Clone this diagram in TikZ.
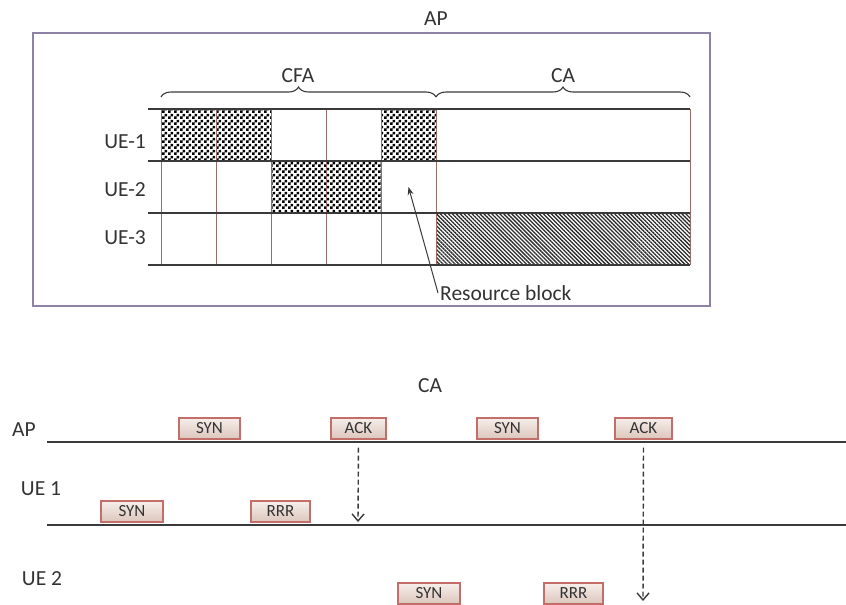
\documentclass[tikz,border=0pt]{standalone}
\usepackage{fontspec}
\setmainfont{Carlito}
\usetikzlibrary{patterns,patterns.meta,decorations.pathreplacing,arrows.meta,positioning}

\definecolor{framecol}{HTML}{8E82A6}
\definecolor{gridcol}{HTML}{9A6E66}
\definecolor{linecol}{HTML}{3A3A3A}
\definecolor{txtcol}{HTML}{333333}
\definecolor{boxedge}{HTML}{C46E6A}
\definecolor{boxtop}{HTML}{F6EEEA}
\definecolor{boxbot}{HTML}{DCC6BC}
\definecolor{hatchcol}{HTML}{2A2A2A}

% fine black and white squares
\pgfdeclarepatternformonly{checker}{\pgfpointorigin}{\pgfpoint{6pt}{6pt}}{\pgfpoint{6pt}{6pt}}{
  \pgfpathrectangle{\pgfpointorigin}{\pgfpoint{3pt}{3pt}}
  \pgfpathrectangle{\pgfpoint{3pt}{3pt}}{\pgfpoint{3pt}{3pt}}
  \pgfusepath{fill}
}

\begin{document}
\begin{tikzpicture}[x=1pt,y=-1pt]
	\tikzstyle{lbl} = [font=\fontsize{21.5}{23}\selectfont, text=txtcol]
	\tikzstyle{cell} = [minimum width=55pt, minimum height=52pt, inner sep=0pt, outer sep=0pt]
	\tikzstyle{msg} = [draw=boxedge, line width=1.4pt, top color=boxtop, bottom color=boxbot, minimum width=61pt, minimum height=21pt, inner sep=0pt, text=txtcol, font=\fontsize{17}{18}\selectfont]
	\tikzstyle{wait} = [linecol, line width=1.4pt, dash pattern=on 5pt off 3pt, -{Straight Barb[length=7pt,width=12pt,line width=1.4pt]}]
	
	\useasboundingbox (0,0) rectangle (846,605);
	
	% Upper part: resource grid
	\draw[framecol, line width=1.2pt] (33,33) rectangle (710,306);
	\node[lbl] (ap) at (436,19) {AP};
	
	\foreach \r in {1,2,3} {
		\foreach \k in {1,...,5}
			\node[cell] (c\r\k) at ({133.5+55*\k},{83+52*\r}) {};
		\node[cell, minimum width=254pt] (ca\r) at (563,{83+52*\r}) {};
	}
	
	\foreach \n in {c11,c12,c15,c23,c24}
		\fill[pattern=checker] (\n.north west) rectangle (\n.south east);
	\fill[pattern={Lines[angle=-45,distance=2.8pt,line width=1.3pt]}, pattern color=hatchcol] (ca3.north west) rectangle (ca3.south east);
	
	\foreach \x in {161,216,271,326,381,436,690}
		\draw[gridcol, line width=0.6pt] (\x,109) -- (\x,265);
	\foreach \y in {109,161,213,265}
		\draw[linecol, line width=1.6pt] (148,\y) -- (690,\y);
	
	\node[lbl] (ue1) at (125,142) {UE-1};
	\node[lbl] (ue2) at (125,190) {UE-2};
	\node[lbl] (ue3) at (125,238) {UE-3};
	
	% Braces over the two periods
	\draw[linecol, line width=1.1pt, decorate, decoration={brace, amplitude=10pt}] (161,97) -- (436,97);
	\draw[linecol, line width=1.1pt, decorate, decoration={brace, amplitude=10pt}] (436,97) -- (690,97);
	\node[lbl] (cfa) at (298,76) {CFA};
	\node[lbl] (cal) at (563,76) {CA};
	
	\node[lbl, anchor=west, inner sep=2pt] (rb) at (438,293) {Resource block};
	\draw[linecol, line width=1pt, -{Stealth[length=8pt,width=6pt]}] (rb.west) -- (c25.center);
	
	% Lower part: CA message exchange
	\node[lbl] (ca) at (430,386) {CA};
	\node[lbl] (apl) at (24,430) {AP};
	\node[lbl] (ue1l) at (41,489) {UE 1};
	\node[lbl] (ue2l) at (42,579) {UE 2};
	
	\coordinate (apA) at (47,442);
	\coordinate (apB) at (846,442);
	\coordinate (ueA) at (47,525);
	\coordinate (ueB) at (846,525);
	\draw[linecol, line width=1.2pt] (apA) -- (apB);
	\draw[linecol, line width=1.2pt] (ueA) -- (ueB);
	
	\node[msg] (syn1) at (209.5,428.5) {SYN};
	\node[msg, minimum width=55pt] (ack1) at (358.5,428.5) {ACK};
	\node[msg] (syn2) at (507.5,428.5) {SYN};
	\node[msg, minimum width=57pt] (ack2) at (643.5,428.5) {ACK};
	\node[msg, minimum width=62pt] (syn3) at (132,511.5) {SYN};
	\node[msg, minimum width=59pt] (rrr1) at (280.5,511.5) {RRR};
	\node[msg, minimum width=62pt] (syn4) at (429,593.5) {SYN};
	\node[msg, minimum width=59pt] (rrr2) at (573.5,593.5) {RRR};
	
	\coordinate (end1) at (358,522);
	\coordinate (end2) at (643,601);
	\draw[wait, shorten <=8pt] (ack1.south) -- (end1);
	\draw[wait, shorten <=8pt] (ack2.south) -- (end2);
	
\end{tikzpicture}
\end{document}
